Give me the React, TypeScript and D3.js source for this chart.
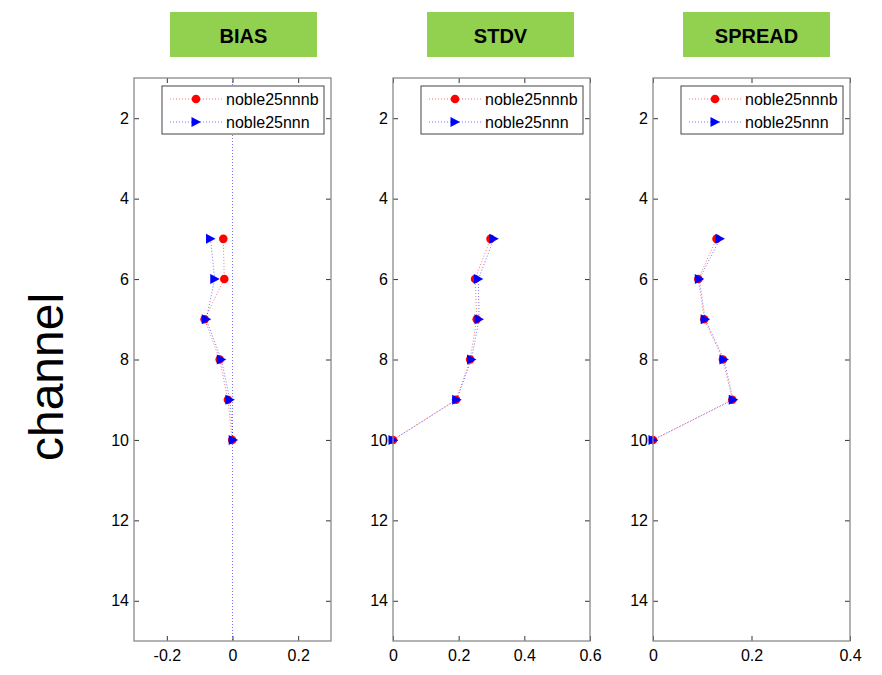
import { useRef, useEffect } from "react";
import * as d3 from "d3";

const channels = [5, 6, 7, 8, 9, 10];
const seriesNames = ["noble25nnnb", "noble25nnn"];
const panelTitles = ["BIAS", "STDV", "SPREAD"];

const biasNnnb = [-0.028, -0.025, -0.085, -0.039, -0.014, -0.001];
const biasNnn = [-0.067, -0.054, -0.08, -0.034, -0.008, 0.002];
const stdvNnnb = [0.297, 0.25, 0.255, 0.235, 0.192, 0];
const stdvNnn = [0.307, 0.26, 0.262, 0.239, 0.194, 0];
const spreadNnnb = [0.129, 0.092, 0.104, 0.142, 0.161, 0];
const spreadNnn = [0.136, 0.094, 0.106, 0.144, 0.163, 0];

const xDomains: [number, number][] = [[-0.3, 0.3], [0, 0.6], [0, 0.4]];
const xTicks = [[-0.2, 0, 0.2], [0, 0.2, 0.4, 0.6], [0, 0.2, 0.4]];
const yTicks = [2, 4, 6, 8, 10, 12, 14];

const FONT = "'Liberation Sans', Arial, sans-serif";
const RED = "#ff0000";
const BLUE = "#0000ff";

export default function App() {
  const svgRef = useRef<SVGSVGElement>(null);

  useEffect(() => {
    const svg = d3.select(svgRef.current);
    svg.selectAll("*").remove();

    const lefts = [134, 393, 653];
    const top = 78;
    const w = 197;
    const h = 563;
    const values = [
      [biasNnnb, biasNnn],
      [stdvNnnb, stdvNnn],
      [spreadNnnb, spreadNnn],
    ];
    const titleBoxes = [170, 427, 683];

    const fmt = (d: number) => (d === 0 ? "0" : d.toFixed(1));

    const tri = (x: number, y: number) =>
      `M${x - 4.5},${y - 5}L${x + 5},${y}L${x - 4.5},${y + 5}Z`;

    panelTitles.forEach((title, p) => {
      // title box
      svg.append("rect")
        .attr("x", titleBoxes[p]).attr("y", 12)
        .attr("width", 147).attr("height", 45)
        .attr("fill", "#92d050");
      svg.append("text")
        .attr("x", titleBoxes[p] + 73.5).attr("y", 43)
        .attr("text-anchor", "middle")
        .attr("font-family", FONT).attr("font-weight", "bold")
        .attr("font-size", 20).attr("fill", "#000")
        .text(title);

      const g = svg.append("g").attr("transform", `translate(${lefts[p]},${top})`);
      const x = d3.scaleLinear().domain(xDomains[p]).range([0, w]);
      const y = d3.scaleLinear().domain([1, 15]).range([0, h]);

      // zero reference line in bias panel
      if (p === 0) {
        g.append("line")
          .attr("x1", x(0)).attr("x2", x(0))
          .attr("y1", 0).attr("y2", h)
          .attr("stroke", BLUE).attr("stroke-opacity", 0.55)
          .attr("stroke-width", 1).attr("stroke-dasharray", "1,2");
      }

      // axes
      const axB = g.append("g").attr("transform", `translate(0,${h})`)
        .call(d3.axisBottom(x).tickValues(xTicks[p]).tickFormat((d) => fmt(+d)).tickSizeInner(-5).tickSizeOuter(0).tickPadding(9));
      const axT = g.append("g")
        .call(d3.axisTop(x).tickValues(xTicks[p]).tickFormat(() => "").tickSizeInner(-5).tickSizeOuter(0));
      const axL = g.append("g")
        .call(d3.axisLeft(y).tickValues(yTicks).tickFormat(d3.format("d")).tickSizeInner(-5).tickSizeOuter(0).tickPadding(5));
      const axR = g.append("g").attr("transform", `translate(${w},0)`)
        .call(d3.axisRight(y).tickValues(yTicks).tickFormat(() => "").tickSizeInner(-5).tickSizeOuter(0));
      [axB, axT, axL, axR].forEach((a) => {
        a.select(".domain").remove();
        a.selectAll(".tick line").attr("stroke", "#333");
        a.selectAll(".tick text").attr("font-family", FONT).attr("font-size", 16).attr("fill", "#000");
      });

      // series
      const colors = [RED, BLUE];
      values[p].forEach((vals, s) => {
        const pts = channels.map((c, i) => [x(vals[i]), y(c)] as [number, number]);
        g.append("path")
          .attr("d", d3.line()(pts))
          .attr("fill", "none")
          .attr("stroke", colors[s]).attr("stroke-opacity", 0.55)
          .attr("stroke-width", 1).attr("stroke-dasharray", "1,2");
        pts.forEach(([px, py]) => {
          if (s === 0) {
            g.append("circle").attr("cx", px).attr("cy", py).attr("r", 4.3).attr("fill", RED);
          } else {
            g.append("path").attr("d", tri(px, py)).attr("fill", BLUE);
          }
        });
      });

      // frame
      g.append("rect")
        .attr("width", w).attr("height", h)
        .attr("fill", "none").attr("stroke", "#8a8a8a").attr("stroke-width", 1.3);

      // legend
      const lg = g.append("g").attr("transform", `translate(${w - 7 - 162},8)`);
      lg.append("rect")
        .attr("width", 162).attr("height", 48)
        .attr("fill", "#fff").attr("stroke", "#444").attr("stroke-width", 1);
      seriesNames.forEach((name, s) => {
        const ly = 13 + s * 23;
        lg.append("line")
          .attr("x1", 8).attr("x2", 60).attr("y1", ly).attr("y2", ly)
          .attr("stroke", colors[s]).attr("stroke-opacity", 0.55)
          .attr("stroke-width", 1).attr("stroke-dasharray", "1,2");
        if (s === 0) {
          lg.append("circle").attr("cx", 34).attr("cy", ly).attr("r", 4.3).attr("fill", RED);
        } else {
          lg.append("path").attr("d", tri(34, ly)).attr("fill", BLUE);
        }
        lg.append("text")
          .attr("x", 64).attr("y", ly + 5.5)
          .attr("font-family", FONT).attr("font-size", 16).attr("fill", "#000")
          .text(name);
      });
    });

    // y axis title
    svg.append("text")
      .attr("transform", `translate(63,377) rotate(-90)`)
      .attr("text-anchor", "middle")
      .attr("font-family", FONT).attr("font-size", 48).attr("fill", "#000")
      .text("channel");
  }, []);

  return (
    <svg
      ref={svgRef}
      width={882}
      height={675}
      style={{ position: "absolute", left: 0, top: 0, background: "#fff" }}
    ></svg>
  );
}
